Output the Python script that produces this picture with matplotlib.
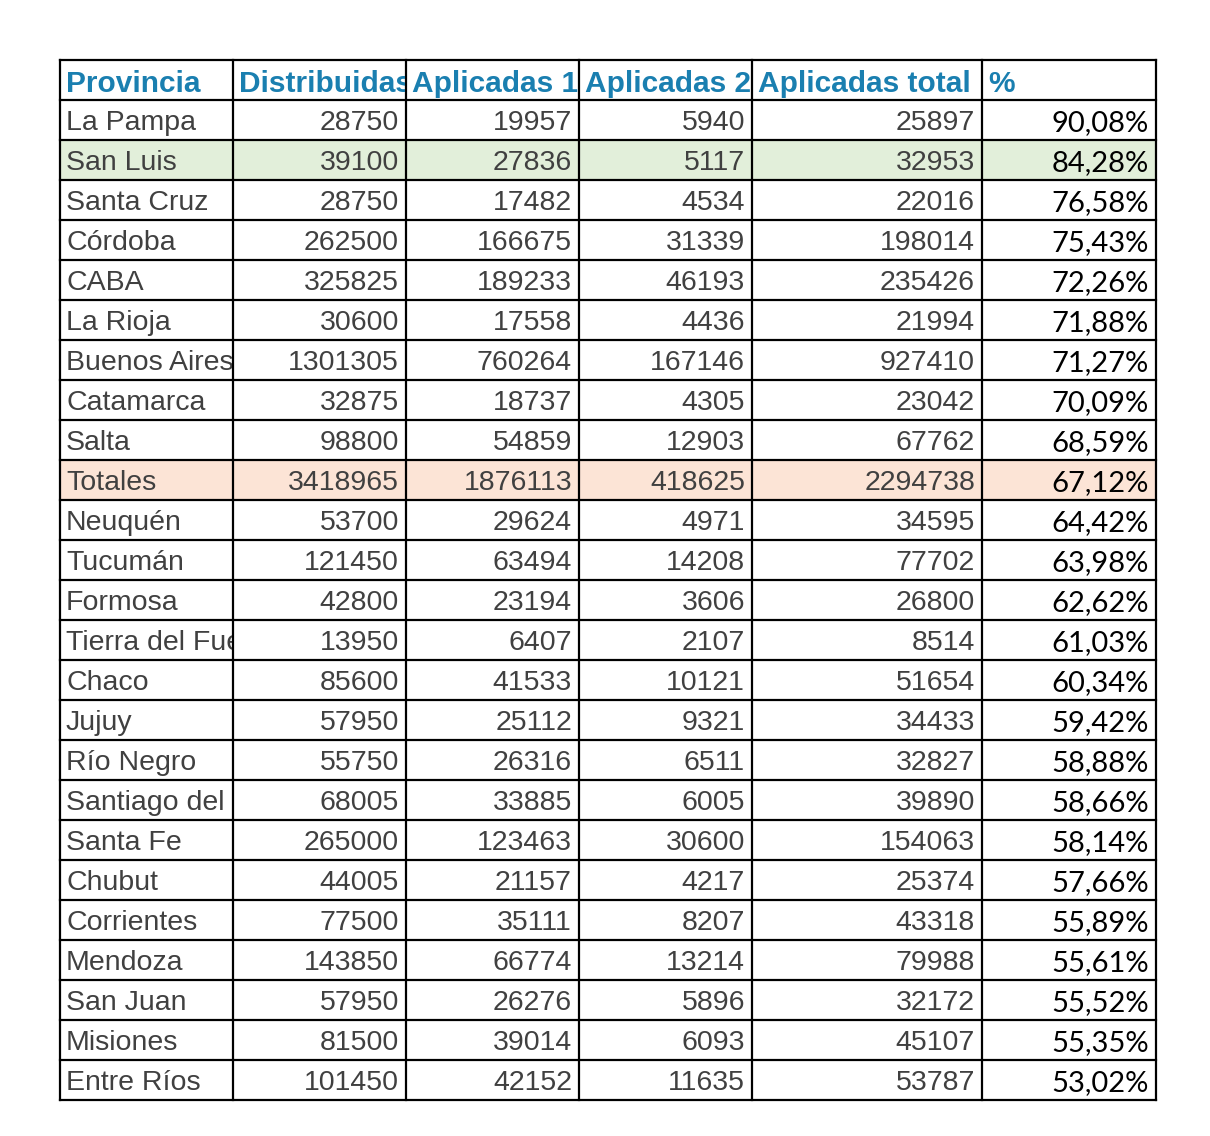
import matplotlib
matplotlib.use("Agg")
import matplotlib.pyplot as plt
from matplotlib.patches import Rectangle

# table data
headers = ["Provincia", "Distribuidas", "Aplicadas 1º", "Aplicadas 2º", "Aplicadas total", "%"]
provincias = ["La Pampa", "San Luis", "Santa Cruz", "Córdoba", "CABA", "La Rioja",
              "Buenos Aires", "Catamarca", "Salta", "Totales", "Neuquén", "Tucumán",
              "Formosa", "Tierra del Fuego", "Chaco", "Jujuy", "Río Negro",
              "Santiago del Estero", "Santa Fe", "Chubut", "Corrientes", "Mendoza",
              "San Juan", "Misiones", "Entre Ríos"]
distribuidas = [28750, 39100, 28750, 262500, 325825, 30600, 1301305, 32875, 98800, 3418965,
                53700, 121450, 42800, 13950, 85600, 57950, 55750, 68005, 265000, 44005,
                77500, 143850, 57950, 81500, 101450]
aplicadas_1 = [19957, 27836, 17482, 166675, 189233, 17558, 760264, 18737, 54859, 1876113,
               29624, 63494, 23194, 6407, 41533, 25112, 26316, 33885, 123463, 21157,
               35111, 66774, 26276, 39014, 42152]
aplicadas_2 = [5940, 5117, 4534, 31339, 46193, 4436, 167146, 4305, 12903, 418625,
               4971, 14208, 3606, 2107, 10121, 9321, 6511, 6005, 30600, 4217,
               8207, 13214, 5896, 6093, 11635]
aplicadas_total = [25897, 32953, 22016, 198014, 235426, 21994, 927410, 23042, 67762, 2294738,
                   34595, 77702, 26800, 8514, 51654, 34433, 32827, 39890, 154063, 25374,
                   43318, 79988, 32172, 45107, 53787]
porcentaje = ["90,08%", "84,28%", "76,58%", "75,43%", "72,26%", "71,88%", "71,27%", "70,09%",
              "68,59%", "67,12%", "64,42%", "63,98%", "62,62%", "61,03%", "60,34%", "59,42%",
              "58,88%", "58,66%", "58,14%", "57,66%", "55,89%", "55,61%", "55,52%", "55,35%",
              "53,02%"]
highlight = {"San Luis": "#e2efda", "Totales": "#fce4d6"}

# layout in pixels
col_edges = [60, 233, 406, 579, 752, 982, 1156]
top, row_h = 60, 40
n_rows = len(provincias) + 1

fig = plt.figure(figsize=(12.1, 11.36), dpi=100)
ax = fig.add_axes([0, 0, 1, 1])
ax.set_xlim(0, 1210)
ax.set_ylim(1136, 0)
ax.axis("off")

sans = ["Liberation Sans", "DejaVu Sans"]
pct_font = ["Lato", "DejaVu Sans"]
gray = "#404040"
blue = "#1a7fb0"

# row backgrounds
for i, name in enumerate(provincias):
    if name in highlight:
        y0 = top + (i + 1) * row_h
        ax.add_patch(Rectangle((col_edges[0], y0), col_edges[-1] - col_edges[0], row_h,
                               facecolor=highlight[name], edgecolor="none", zorder=0))

def cell_text(r, c, s, **kw):
    x0, x1 = col_edges[c], col_edges[c + 1]
    y0 = top + r * row_h
    ha = kw.pop("ha", "left")
    x = x0 + 6 if ha == "left" else x1 - 7
    t = ax.text(x, y0 + row_h / 2 + 3.5, s, ha=ha, va="center", **kw)
    clip = Rectangle((x0 + 1, y0), x1 - x0 - 2, row_h, transform=ax.transData)
    t.set_clip_path(clip)
    t.set_clip_on(True)

# header
for c, h in enumerate(headers):
    cell_text(0, c, h, fontsize=21.5, fontweight="bold", color=blue, family=sans)

# body
cols = [distribuidas, aplicadas_1, aplicadas_2, aplicadas_total]
for i, name in enumerate(provincias):
    r = i + 1
    cell_text(r, 0, name, fontsize=20.5, color=gray, family=sans)
    for c, vals in enumerate(cols):
        cell_text(r, c + 1, str(vals[i]), fontsize=20.5, color=gray, family=sans, ha="right")
    cell_text(r, 5, porcentaje[i], fontsize=21, color="black", family=pct_font, ha="right")

# grid lines
bottom = top + n_rows * row_h
for x in col_edges:
    ax.plot([x, x], [top, bottom], color="black", lw=1.6, solid_capstyle="projecting")
for r in range(n_rows + 1):
    y = top + r * row_h
    ax.plot([col_edges[0], col_edges[-1]], [y, y], color="black", lw=1.6,
            solid_capstyle="projecting")

fig.savefig("out.png", dpi=100, facecolor="white")
